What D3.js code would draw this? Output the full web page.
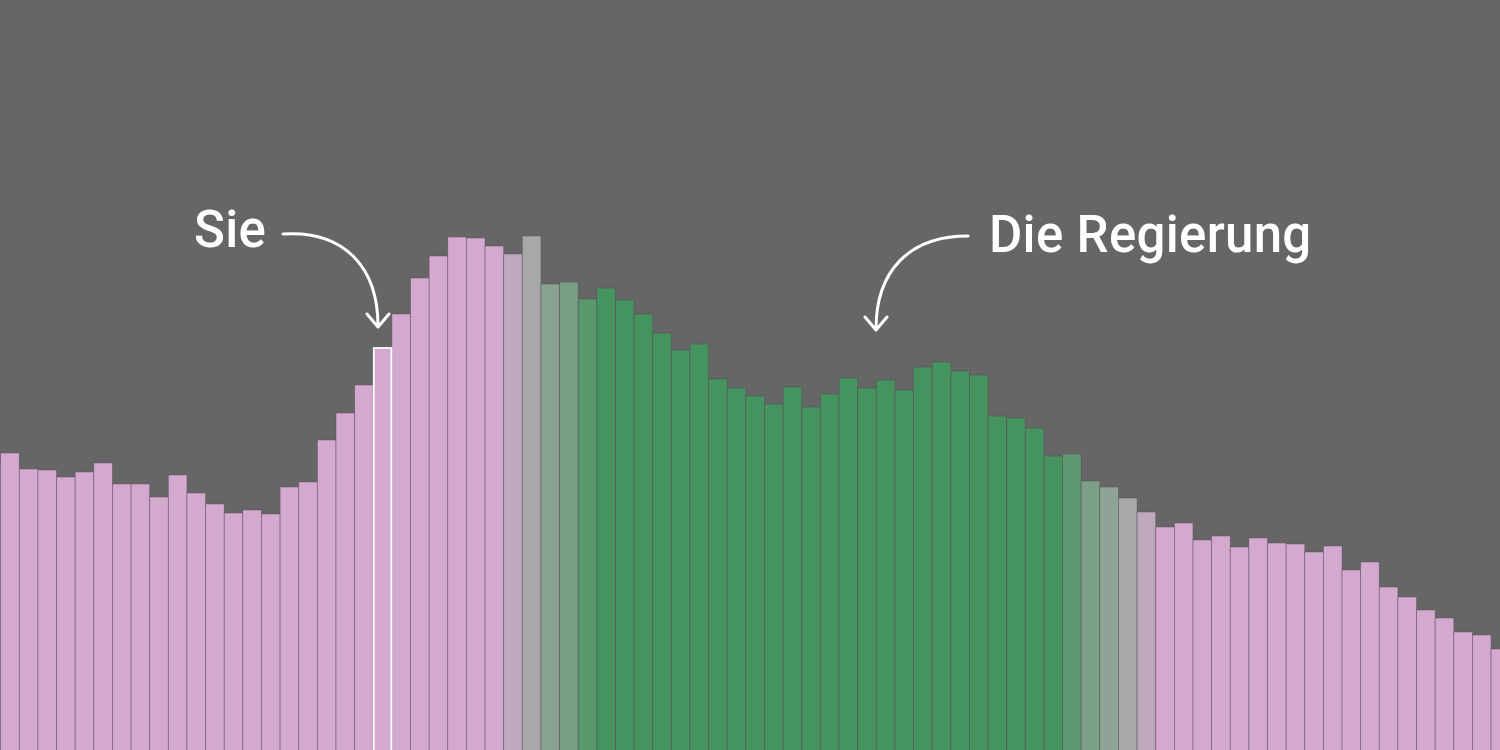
<!DOCTYPE html>
<html lang="de">
<head>
  <meta charset="UTF-8">
  <title>Sie und die Regierung</title>
  <script src="https://d3js.org/d3.v7.min.js"></script>
  <style>
    html, body { margin: 0; padding: 0; background: #666666; overflow: hidden; }
    svg { display: block; }
    .label { font-family: Roboto, "Noto Sans", sans-serif; font-weight: 500; fill: #fff; letter-spacing: 0.3px; }
  </style>
</head>
<body>
  <svg id="chart"></svg>

  <script>
    // one bar per age group, the first and last ones run past the edges
    const groups = [
      0, 1, 2, 3, 4, 5, 6, 7, 8, 9, 10, 11, 12, 13, 14, 15, 16, 17, 18, 19,
      20, 21, 22, 23, 24, 25, 26, 27, 28, 29, 30, 31, 32, 33, 34, 35, 36, 37, 38, 39,
      40, 41, 42, 43, 44, 45, 46, 47, 48, 49, 50, 51, 52, 53, 54, 55, 56, 57, 58, 59,
      60, 61, 62, 63, 64, 65, 66, 67, 68, 69, 70, 71, 72, 73, 74, 75, 76, 77, 78, 79,
      80, 81
    ];

    const values = [
      290, 297, 281, 280, 273, 278, 287, 266, 266, 253, 275, 257, 246, 237, 240, 236, 263, 268, 310, 337,
      365, 402, 436, 472, 494, 513, 512, 504, 496, 514, 466, 468, 451, 462, 450, 436, 417, 400, 406, 371,
      362, 354, 346, 363, 343, 356, 372, 362, 370, 360, 383, 388, 379, 375, 334, 332, 322, 294, 296, 269,
      263, 252, 238, 223, 227, 210, 214, 203, 212, 207, 206, 198, 204, 180, 188, 163, 153, 140, 132, 118,
      115, 101
    ];

    // -1 = population, 0 = mixed, 1 = government
    const share = [
      -1, -1, -1, -1, -1, -1, -1, -1, -1, -1, -1, -1, -1, -1, -1, -1, -1, -1, -1, -1,
      -1, -1, -1, -1, -1, -1, -1, -1, -0.5, 0, 0.3, 0.5, 0.8, 1, 1, 1, 1, 1, 1, 1,
      1, 1, 1, 1, 1, 1, 1, 1, 1, 1, 1, 1, 1, 1, 1, 1, 1, 1, 0.75, 0.45,
      0.25, 0, -0.5, -1, -1, -1, -1, -1, -1, -1, -1, -1, -1, -1, -1, -1, -1, -1, -1, -1,
      -1, -1
    ];

    const youIndex = 21;

    const width = 1500;
    const height = 750;

    const svg = d3.select("#chart")
      .attr("width", width)
      .attr("height", height);

    const x = d3.scaleBand()
      .domain(groups)
      .range([-17.96, 1509.7])
      .paddingInner(0);

    const y = d3.scaleLinear()
      .domain([0, 750])
      .range([height, 0]);

    const color = d3.scaleLinear()
      .domain([-1, 0, 1])
      .range(["#d4a9d0", "#a8a8a8", "#45935e"]);

    const data = groups.map((g, i) => ({ group: g, value: values[i], share: share[i] }));

    svg.append("g")
      .selectAll("rect")
      .data(data)
      .enter()
      .append("rect")
      .attr("x", d => x(d.group))
      .attr("y", d => y(d.value))
      .attr("width", x.bandwidth())
      .attr("height", d => height - y(d.value) + 2)
      .attr("fill", d => color(d.share))
      .attr("stroke", "#5a4a5a")
      .attr("stroke-opacity", 0.55)
      .attr("stroke-width", 0.8);

    // highlighted bar
    const you = data[youIndex];
    svg.append("rect")
      .attr("x", x(you.group) + 0.5)
      .attr("y", y(you.value))
      .attr("width", x.bandwidth() - 1)
      .attr("height", height - y(you.value) + 4)
      .attr("fill", "none")
      .attr("stroke", "#fff")
      .attr("stroke-width", 1.8);

    // annotations
    svg.append("text")
      .attr("class", "label")
      .attr("x", 194)
      .attr("y", 247)
      .attr("font-size", 51)
      .text("Sie");

    svg.append("text")
      .attr("class", "label")
      .attr("x", 989)
      .attr("y", 252)
      .attr("font-size", 51)
      .text("Die Regierung");

    const arrow = (path, tipX, tipY) => {
      svg.append("path")
        .attr("d", path)
        .attr("fill", "none")
        .attr("stroke", "#fff")
        .attr("stroke-width", 3)
        .attr("stroke-linecap", "round");
      svg.append("path")
        .attr("d", `M${tipX - 11},${tipY - 13} L${tipX},${tipY} L${tipX + 11},${tipY - 13}`)
        .attr("fill", "none")
        .attr("stroke", "#fff")
        .attr("stroke-width", 3)
        .attr("stroke-linecap", "round")
        .attr("stroke-linejoin", "round");
    };

    arrow("M283,234 C345,230 378,268 378,326", 378, 327);
    arrow("M968,236 C908,236 876,272 876,329", 876, 330);
  </script>
</body>
</html>
